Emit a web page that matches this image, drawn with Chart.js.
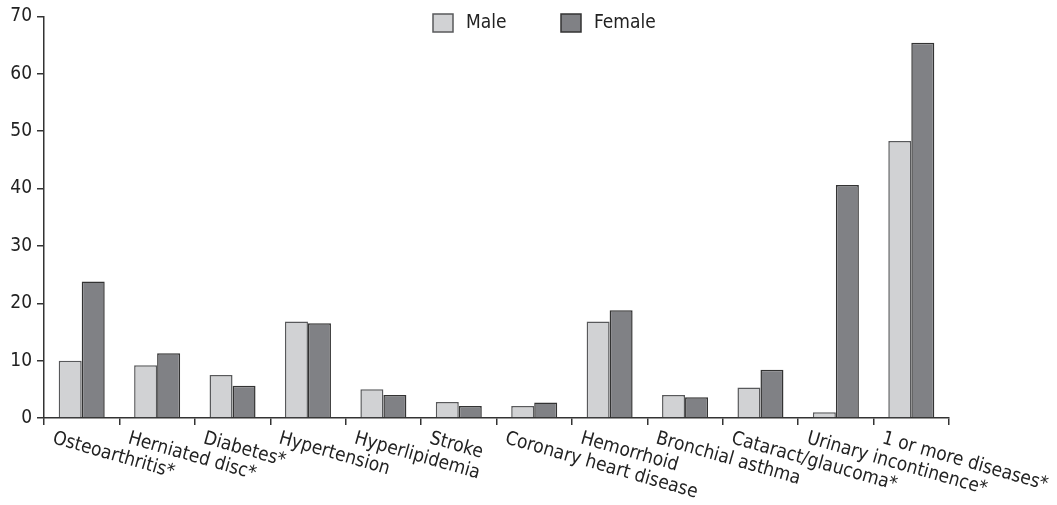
<!DOCTYPE html>
<html>
<head>
<meta charset="utf-8">
<script src="https://cdn.jsdelivr.net/npm/chart.js@4"></script>
<style>
    body { margin: 0; background: #fff; }
    #wrap { width: 1057px; height: 505px; }
</style>
</head>
<body>
<div id="wrap"><canvas id="grafico" width="1057" height="505"></canvas></div>
<script>
const categorias = ["Osteoarthritis*", "Herniated disc*", "Diabetes*", "Hypertension", "Hyperlipidemia", "Stroke",
    "Coronary heart disease", "Hemorrhoid", "Bronchial asthma", "Cataract/glaucoma*", "Urinary incontinence*", "1 or more diseases*"];
const valoresMale = [10.0, 9.2, 7.5, 16.8, 5.0, 2.8, 2.1, 16.8, 4.0, 5.3, 1.0, 48.3];
const valoresFemale = [23.8, 11.3, 5.6, 16.5, 4.0, 2.1, 2.7, 18.8, 3.6, 8.4, 40.6, 65.4];
const yMin = 0, yMax = 70, yPaso = 10;

const fuente = "'Liberation Sans Narrow', 'DejaVu Sans Condensed', sans-serif";
const colorEje = "#333";

// --- etiquetas del eje x inclinadas hacia abajo ---
const etiquetasX = {
    id: "etiquetasX",
    afterDraw(chart) {
        const ctx = chart.ctx;
        const x = chart.scales.x;
        ctx.save();
        ctx.font = "19px " + fuente;
        ctx.fillStyle = "#222";
        ctx.textAlign = "left";
        ctx.textBaseline = "top";
        categorias.forEach((c, i) => {
            const px = x.getPixelForValue(i) - 26;
            const py = x.top + 11;
            ctx.save();
            ctx.translate(px, py);
            ctx.rotate(16 * Math.PI / 180);
            ctx.fillText(c, 0, 0);
            ctx.restore();
        });
        ctx.restore();
    }
};

// --- leyenda dentro del área del gráfico ---
const leyenda = {
    id: "leyenda",
    afterDraw(chart) {
        const ctx = chart.ctx;
        const items = [
            { ds: chart.data.datasets[0], x: 433 },
            { ds: chart.data.datasets[1], x: 561 }
        ];
        ctx.save();
        ctx.font = "19px " + fuente;
        ctx.textBaseline = "middle";
        items.forEach(it => {
            ctx.fillStyle = it.ds.backgroundColor;
            ctx.strokeStyle = it.ds.borderColor;
            ctx.lineWidth = 1.5;
            ctx.fillRect(it.x, 14, 20, 18);
            ctx.strokeRect(it.x, 14, 20, 18);
            ctx.fillStyle = "#222";
            ctx.fillText(it.ds.label, it.x + 33, 23);
        });
        ctx.restore();
    }
};

new Chart(document.getElementById("grafico").getContext("2d"), {
    type: "bar",
    data: {
        labels: categorias,
        datasets: [{
            label: "Male",
            data: valoresMale,
            backgroundColor: "#d1d2d4",
            borderColor: "#58595b",
            borderWidth: 1.5
        }, {
            label: "Female",
            data: valoresFemale,
            backgroundColor: "#808185",
            borderColor: "#333333",
            borderWidth: 1.5
        }]
    },
    options: {
        responsive: false,
        animation: false,
        categoryPercentage: 0.61,
        barPercentage: 1.0,
        layout: { padding: { top: 14, right: 108, left: 0, bottom: 0 } },
        plugins: {
            legend: { display: false },
            tooltip: { enabled: false }
        },
        scales: {
            x: {
                offset: true,
                grid: { offset: true, drawOnChartArea: false, tickLength: 7, color: colorEje, lineWidth: 1.5 },
                border: { color: colorEje, width: 1.5 },
                ticks: { display: false },
                afterFit: s => { s.height = 87; }
            },
            y: {
                min: yMin,
                max: yMax,
                grid: { drawOnChartArea: false, tickLength: 7, color: colorEje, lineWidth: 1.5 },
                border: { color: colorEje, width: 1.5 },
                ticks: { stepSize: yPaso, padding: 5, color: "#222", font: { family: fuente, size: 19 } },
                afterFit: s => { s.width = 44; }
            }
        }
    },
    plugins: [etiquetasX, leyenda]
});
</script>
</body>
</html>
